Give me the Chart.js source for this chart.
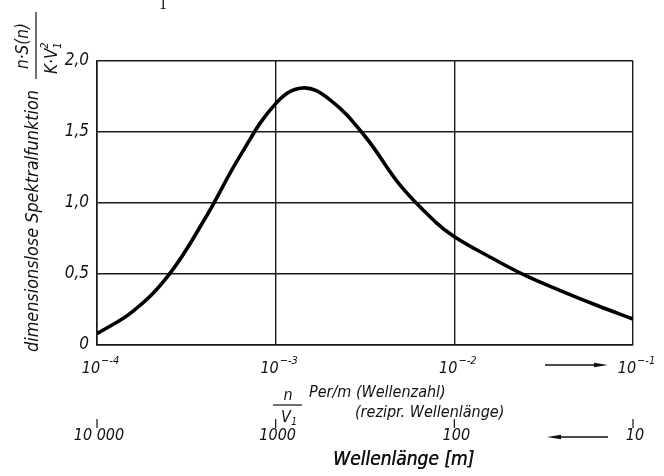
<!DOCTYPE html>
<html>
<head>
<meta charset="utf-8">
<script src="https://cdn.jsdelivr.net/npm/chart.js@4"></script>
<style>
  html, body { margin: 0; padding: 0; background: #fff; }
  #wrap { width: 664px; height: 476px; }
</style>
</head>
<body>
<div id="wrap"><canvas id="spektrum" width="664" height="476"></canvas></div>
<script>
// Wellenzahl n/V1 in Per/m and dimensionless spectral function
const wellenzahl = [1.0e-4, 1.58e-4, 2.51e-4, 3.98e-4, 6.31e-4, 1.0e-3, 1.41e-3, 2.0e-3,
                    3.16e-3, 5.01e-3, 7.94e-3, 1.0e-2, 1.58e-2, 2.51e-2, 3.98e-2,
                    6.31e-2, 1.0e-1];
const spektral = [0.08, 0.235, 0.49, 0.88, 1.33, 1.70, 1.81, 1.73,
                  1.47, 1.12, 0.86, 0.763, 0.62, 0.488, 0.38,
                  0.278, 0.183];

const dekaden = [1e-4, 1e-3, 1e-2, 1e-1];
const exponenten = ['-4', '-3', '-2', '-1'];
const wellenlaengen = ['10 000', '1000', '100', '10'];

const FONT = '"Liberation Sans Narrow", "DejaVu Sans Condensed", sans-serif';
const INK = '#111';

function italic(size, weight) {
  return (weight ? weight + ' ' : '') + 'italic ' + size + 'px ' + FONT;
}

// draw a horizontal arrow with a filled head
function arrow(ctx, x1, x2, y) {
  const dir = Math.sign(x2 - x1);
  ctx.beginPath();
  ctx.moveTo(x1, y);
  ctx.lineTo(x2 - dir * 10, y);
  ctx.lineWidth = 1.3;
  ctx.stroke();
  ctx.beginPath();
  ctx.moveTo(x2, y);
  ctx.lineTo(x2 - dir * 14, y - 2.2);
  ctx.lineTo(x2 - dir * 14, y + 2.2);
  ctx.closePath();
  ctx.fill();
}

const beschriftung = {
  id: 'beschriftung',
  afterDraw(chart) {
    const ctx = chart.ctx;
    const xs = chart.scales.x;
    ctx.save();
    ctx.fillStyle = INK;
    ctx.strokeStyle = INK;

    // fragment of the caption above
    ctx.font = '16px "Liberation Serif", serif';
    ctx.textAlign = 'center';
    ctx.textBaseline = 'alphabetic';
    ctx.fillText('1', 163, 9);

    // decade labels 10^n
    dekaden.forEach((v, i) => {
      const px = xs.getPixelForValue(v);
      ctx.font = italic(16);
      ctx.textAlign = 'left';
      ctx.textBaseline = 'alphabetic';
      const w = ctx.measureText('10').width;
      ctx.font = italic(11);
      const we = ctx.measureText('\u2212' + exponenten[i]).width;
      const x0 = px - (w + we) / 2 + 3;
      ctx.font = italic(16);
      ctx.fillText('10', x0, 373);
      ctx.font = italic(11);
      ctx.fillText('\u2212' + exponenten[i], x0 + w + 1, 364);
    });
    arrow(ctx, 545, 608, 365);

    // n / V1 fraction
    ctx.textAlign = 'center';
    ctx.textBaseline = 'middle';
    ctx.font = italic(16);
    ctx.fillText('n', 288, 396);
    ctx.fillText('V', 286, 418);
    ctx.font = italic(10);
    ctx.fillText('1', 294, 422);
    ctx.lineWidth = 1.2;
    ctx.beginPath();
    ctx.moveTo(273, 405);
    ctx.lineTo(302, 405);
    ctx.stroke();

    ctx.textAlign = 'left';
    ctx.font = italic(16);
    ctx.fillText('Per/m (Wellenzahl)', 309, 393);
    ctx.fillText('(rezipr. Wellenl\u00e4nge)', 355, 413);

    // wavelength scale below
    dekaden.forEach((v, i) => {
      const px = xs.getPixelForValue(v);
      ctx.lineWidth = 1.2;
      ctx.beginPath();
      ctx.moveTo(px, 419);
      ctx.lineTo(px, 428);
      ctx.stroke();
      ctx.textAlign = 'center';
      ctx.font = italic(16);
      ctx.fillText(wellenlaengen[i], px + 2, 436);
    });
    arrow(ctx, 608, 547, 437);

    ctx.textAlign = 'left';
    ctx.font = italic(19);
    ctx.fillText('Wellenl\u00e4nge [m]', 333, 460);
    ctx.fillText('Wellenl\u00e4nge [m]', 333.5, 460);

    // y axis title, rotated
    ctx.translate(34, 0);
    ctx.rotate(-Math.PI / 2);
    ctx.textAlign = 'left';
    ctx.textBaseline = 'middle';
    const titel = 'dimensionslose Spektralfunktion';
    ctx.font = italic(17);
    const tw = ctx.measureText(titel).width;
    const ziel = 262;
    ctx.save();
    ctx.scale(ziel / tw, 1);
    ctx.fillText(titel, -352 * tw / ziel, 0);
    ctx.restore();

    // fraction n*S(n) / K*v1^2 (rotated coordinates: x = -y_page, y = x_page - 34)
    ctx.textAlign = 'center';
    ctx.font = italic(17);
    ctx.fillText('n\u00b7S(n)', -46, 24 - 34);
    ctx.lineWidth = 1.2;
    ctx.beginPath();
    ctx.moveTo(-79, 36 - 34);
    ctx.lineTo(-12, 36 - 34);
    ctx.stroke();
    ctx.textAlign = 'left';
    ctx.fillText('K\u00b7V', -74, 53 - 34);
    const kw = ctx.measureText('K\u00b7V').width;
    ctx.font = italic(11);
    ctx.fillText('1', -74 + kw, 58 - 34);
    ctx.fillText('2', -74 + kw, 45 - 34);

    ctx.restore();
  }
};

new Chart(document.getElementById('spektrum'), {
  type: 'line',
  data: {
    datasets: [{
      data: wellenzahl.map((x, i) => ({ x: x, y: spektral[i] })),
      borderColor: '#000',
      borderWidth: 3.6,
      pointRadius: 0,
      tension: 0.4,
      fill: false
    }]
  },
  options: {
    responsive: false,
    animation: false,
    layout: { padding: { left: 0, top: 61, right: 31, bottom: 0 } },
    plugins: { legend: { display: false }, tooltip: { enabled: false } },
    scales: {
      x: {
        type: 'logarithmic',
        min: 1e-4,
        max: 1e-1,
        afterBuildTicks: s => { s.ticks = dekaden.map(v => ({ value: v })); },
        afterFit: s => { s.height = 131; },
        ticks: { display: false },
        grid: { color: '#1a1a1a', lineWidth: 1.4, drawTicks: false },
        border: { color: '#1a1a1a', width: 1.6 }
      },
      y: {
        min: 0,
        max: 2,
        afterFit: s => { s.width = 97; },
        ticks: {
          stepSize: 0.5,
          padding: 8,
          color: INK,
          font: { family: FONT, size: 17, style: 'italic' },
          callback: v => v === 0 ? '0' : v.toFixed(1).replace('.', ',')
        },
        grid: { color: '#1a1a1a', lineWidth: 1.4, drawTicks: false },
        border: { color: '#1a1a1a', width: 1.6 }
      }
    }
  },
  plugins: [beschriftung]
});
</script>
</body>
</html>
